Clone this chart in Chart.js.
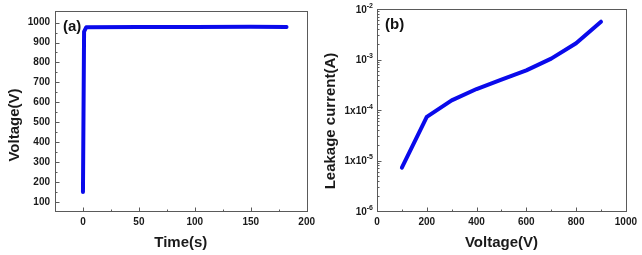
<!DOCTYPE html>
<html><head><meta charset="utf-8">
<script src="https://cdn.jsdelivr.net/npm/chart.js@4/dist/chart.umd.min.js"></script>
<style>html,body{margin:0;padding:0;background:#fff;overflow:hidden}
canvas{position:absolute;top:0}</style></head><body>
<canvas id="ca" width="320" height="255" style="left:0"></canvas>
<canvas id="cb" width="322" height="255" style="left:320px"></canvas>
<script>
// ---- Panel (a) data ----
const timeS = [0, 1, 3, 50, 100, 150, 182];
const voltageA = [150, 955, 977, 978, 978, 979, 978];
const timeTicks = [0, 50, 100, 150, 200];
const timeMinor = [25, 75, 125, 175];
const voltTicksA = [100, 200, 300, 400, 500, 600, 700, 800, 900, 1000];
const voltMinorA = [150, 250, 350, 450, 550, 650, 750, 850, 950];

// ---- Panel (b) data ----
const voltageB = [100, 200, 300, 400, 500, 600, 700, 800, 900];
const currentB = [7.2e-6, 7.3e-5, 1.55e-4, 2.6e-4, 4.0e-4, 6.1e-4, 1.04e-3, 2.1e-3, 5.6e-3];
const voltTicksB = [0, 200, 400, 600, 800, 1000];
const voltMinorB = [100, 300, 500, 700, 900];
const curTicks = [1e-6, 1e-5, 1e-4, 1e-3, 1e-2];
const curTickBase = ['10', '1x10', '1x10', '10', '10'];
const curTickExp = ['-6', '-5', '-4', '-3', '-2'];
const curMinor = [];
[1e-6, 1e-5, 1e-4, 1e-3].forEach(d => { for (let k = 2; k <= 9; k++) curMinor.push(d * k); });

const FAM = "'Liberation Sans', Arial, 'DejaVu Sans', sans-serif";
const LINE = 'rgb(10,10,235)';
const TXT = '#1a1a1a';
const BOX = '#5a5a5a';

const framePlugin = {
  id: 'frame',
  afterDatasetsDraw(chart, args, opts) {
    const ctx = chart.ctx, a = chart.chartArea;
    const xs = chart.scales.x, ys = chart.scales.y;
    ctx.save();
    ctx.strokeStyle = BOX; ctx.lineWidth = 1;
    ctx.strokeRect(Math.round(a.left) + 0.5, Math.round(a.top) + 0.5,
      Math.round(a.right - a.left), Math.round(a.bottom - a.top));
    ctx.beginPath();
    const bot = Math.round(a.bottom) + 0.5, lft = Math.round(a.left) + 0.5;
    const tick = (len, v, axis) => {
      if (axis === 'x') { const p = Math.round(xs.getPixelForValue(v)) + 0.5; ctx.moveTo(p, bot); ctx.lineTo(p, bot - len); }
      else { const p = Math.round(ys.getPixelForValue(v)) + 0.5; ctx.moveTo(lft, p); ctx.lineTo(lft + len, p); }
    };
    xs.ticks.forEach(t => tick(4, t.value, 'x'));
    (opts.xMinor || []).forEach(v => tick(2, v, 'x'));
    ys.ticks.forEach(t => tick(4, t.value, 'y'));
    (opts.yMinor || []).forEach(v => tick(2, v, 'y'));
    ctx.stroke();
    // custom superscript labels
    if (opts.supBase) {
      ctx.fillStyle = TXT;
      ctx.textBaseline = 'middle';
      opts.supValues.forEach((v, i) => {
        const p = ys.getPixelForValue(v);
        const right = a.left - 4;
        ctx.font = 'bold 7px ' + FAM;
        const ew = ctx.measureText(opts.supExp[i]).width;
        ctx.textAlign = 'left';
        ctx.fillText(opts.supExp[i], right - ew, p - 3);
        ctx.font = 'bold 10px ' + FAM;
        ctx.textAlign = 'right';
        ctx.fillText(opts.supBase[i], right - ew, p + 1);
      });
    }
    // y axis title
    ctx.fillStyle = TXT;
    ctx.font = 'bold 15px ' + FAM;
    ctx.textAlign = 'center'; ctx.textBaseline = 'middle';
    ctx.translate(opts.ytx, opts.yty);
    ctx.rotate(-Math.PI / 2);
    ctx.fillText(opts.yTitle, 0, 0);
    ctx.setTransform(1, 0, 0, 1, 0, 0);
    // panel label
    ctx.fillStyle = '#111';
    ctx.font = 'bold 15px ' + FAM;
    ctx.textAlign = 'left'; ctx.textBaseline = 'middle';
    ctx.fillText(opts.label, a.left + opts.lx, a.top + opts.ly);
    ctx.restore();
  }
};

function baseScale(min, max, ticks, title, tpad, ypad) {
  return {
    type: 'linear', min, max,
    afterBuildTicks: s => { s.ticks = ticks.map(v => ({ value: v })); },
    grid: { display: false, drawTicks: false },
    border: { display: false },
    ticks: { font: { family: FAM, size: 10, weight: 'bold' }, color: TXT, padding: ypad, callback: v => String(v) },
    title: { display: true, text: title, color: TXT, font: { family: FAM, size: 15, weight: 'bold' }, padding: tpad }
  };
}

// Panel (a)
const xa = baseScale(-25, 200, timeTicks, 'Time(s)', { top: 0, bottom: 3 }, 5);
xa.afterFit = s => { s.height = 44; };
const ya = baseScale(55, 1058, voltTicksA, 'Voltage(V)', { top: 6, bottom: 0 }, 5);
ya.title.display = false;
ya.afterFit = s => { s.width = 55; };

new Chart(document.getElementById('ca'), {
  type: 'line',
  data: { datasets: [{ data: timeS.map((t, i) => ({ x: t, y: voltageA[i] })), borderColor: LINE, borderWidth: 4, pointRadius: 0, tension: 0, fill: false, borderCapStyle: 'round', borderJoinStyle: 'round' }] },
  options: {
    responsive: false, animation: false, events: [],
    layout: { padding: { left: 0, right: 12, top: 8, bottom: 0 } },
    plugins: { legend: { display: false }, tooltip: { enabled: false },
      frame: { label: '(a)', lx: 8, ly: 16, xMinor: timeMinor, yMinor: voltMinorA,
        yTitle: 'Voltage(V)', ytx: 15, yty: 125 } },
    scales: { x: xa, y: ya }
  },
  plugins: [framePlugin]
});

// Panel (b)
const xb = baseScale(0, 1000, voltTicksB, 'Voltage(V)', { top: 0, bottom: 3 }, 5);
xb.afterFit = s => { s.height = 44; };
const yb = baseScale(1e-6, 1e-2, curTicks, 'Leakage current(A)', { top: 1, bottom: 0 }, 4);
yb.type = 'logarithmic';
yb.ticks.display = false;
yb.title.display = false;
yb.afterFit = s => { s.width = 57; };

new Chart(document.getElementById('cb'), {
  type: 'line',
  data: { datasets: [{ data: voltageB.map((v, i) => ({ x: v, y: currentB[i] })), borderColor: LINE, borderWidth: 4, pointRadius: 0, tension: 0, fill: false, borderCapStyle: 'round', borderJoinStyle: 'round' }] },
  options: {
    responsive: false, animation: false, events: [],
    layout: { padding: { left: 0, right: 10, top: 9, bottom: 0 } },
    plugins: { legend: { display: false }, tooltip: { enabled: false },
      frame: { label: '(b)', lx: 8, ly: 16, xMinor: voltMinorB, yMinor: curMinor,
        supValues: curTicks, supBase: curTickBase, supExp: curTickExp,
        yTitle: 'Leakage current(A)', ytx: 11, yty: 121 } },
    scales: { x: xb, y: yb }
  },
  plugins: [framePlugin]
});
</script>
</body></html>
